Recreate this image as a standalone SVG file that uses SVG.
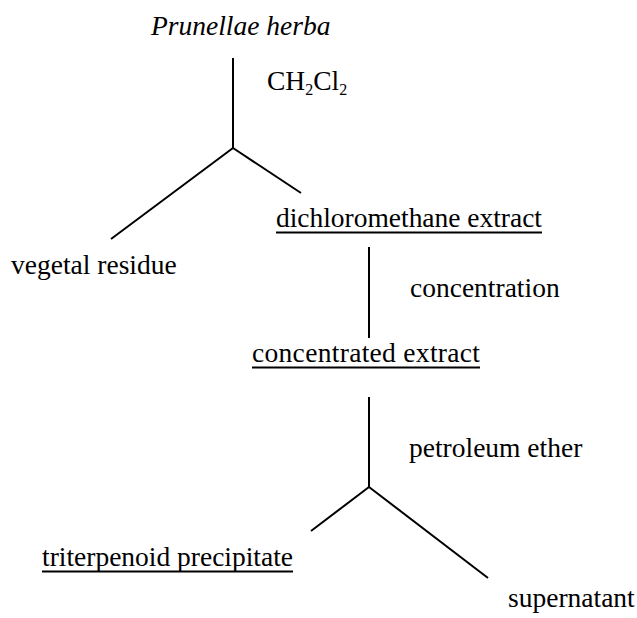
<svg xmlns="http://www.w3.org/2000/svg" width="637" height="618" viewBox="0 0 637 618">
<style>
text{font-family:"Liberation Serif","Times New Roman",serif;font-size:27.5px;fill:#000}
.c line{stroke:#000;stroke-width:2;stroke-linecap:butt}
.ul{stroke:#000;stroke-width:1.8}
</style>
<rect width="637" height="618" fill="#fff"/>
<g id="connectors" class="c">
<line x1="233" y1="58" x2="233" y2="148"/>
<line x1="233" y1="148" x2="111" y2="239"/>
<line x1="233" y1="148" x2="301" y2="193"/>
<line x1="369" y1="247" x2="369" y2="338"/>
<line x1="369" y1="397" x2="369" y2="487"/>
<line x1="369" y1="487" x2="311" y2="531"/>
<line x1="369" y1="487" x2="488" y2="578"/>
</g>
<g id="n-herba"><text x="151" y="35" font-size="27" font-style="italic">Prunellae herba</text></g>
<g id="l-ch2cl2"><text x="267" y="90" font-size="24">CH<tspan font-size="16" dy="5">2</tspan><tspan dy="-5">Cl</tspan><tspan font-size="16" dy="5">2</tspan></text></g>
<g id="n-dcm"><text x="276" y="227" textLength="266" lengthAdjust="spacing">dichloromethane extract</text><line class="ul" x1="276" y1="232.5" x2="542" y2="232.5"/></g>
<g id="n-residue"><text x="11" y="274">vegetal residue</text></g>
<g id="l-conc"><text x="410" y="297">concentration</text></g>
<g id="n-concext"><text x="252" y="362" textLength="228" lengthAdjust="spacing">concentrated extract</text><line class="ul" x1="252" y1="367.5" x2="480" y2="367.5"/></g>
<g id="l-pe"><text x="409" y="457">petroleum ether</text></g>
<g id="n-trit"><text x="42" y="566" textLength="251" lengthAdjust="spacing">triterpenoid precipitate</text><line class="ul" x1="42" y1="571.5" x2="293" y2="571.5"/></g>
<g id="n-super"><text x="508" y="607">supernatant</text></g>
</svg>
